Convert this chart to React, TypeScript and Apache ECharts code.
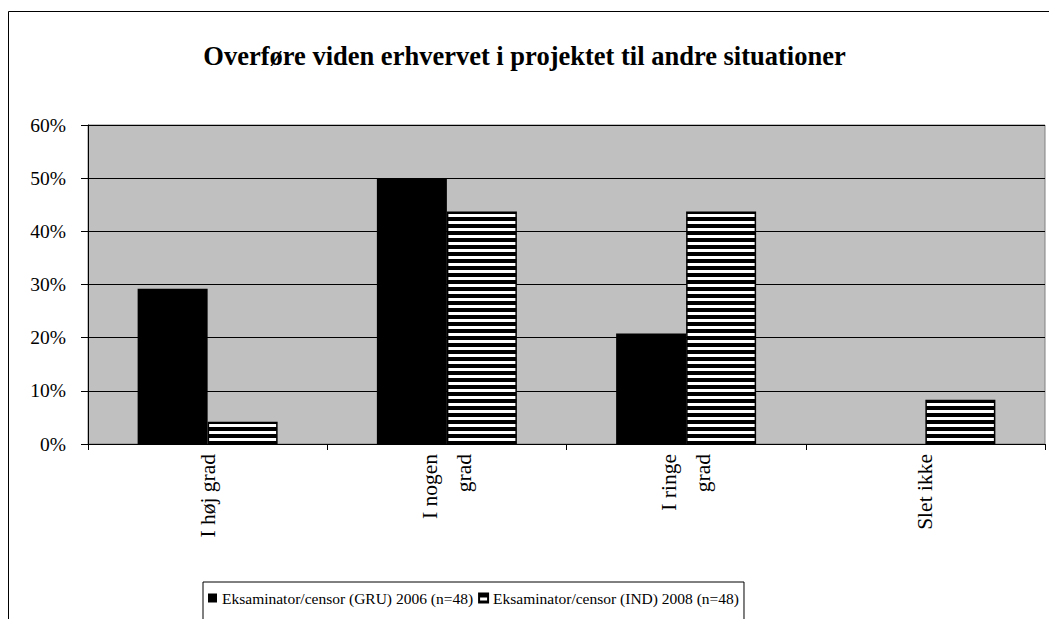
import React, { useEffect, useRef } from "react";
import * as echarts from "echarts";

const titleText = "Overføre viden erhvervet i projektet til andre situationer";
const categories = ["I høj grad", "I nogen\ngrad", "I ringe\ngrad", "Slet ikke"];
const seriesNames = [
  "Eksaminator/censor (GRU) 2006 (n=48)",
  "Eksaminator/censor (IND) 2008 (n=48)",
];
const gru2006 = [0.292, 0.5, 0.208, 0];
const ind2008 = [0.042, 0.4375, 0.4375, 0.083];
const yTicks = { min: 0, max: 0.6, interval: 0.1 };

const FONT = "'Liberation Serif', 'Times New Roman', serif";

function makeStripes(): HTMLCanvasElement {
  const c = document.createElement("canvas");
  c.width = 4;
  c.height = 7;
  const ctx = c.getContext("2d")!;
  ctx.fillStyle = "#000";
  ctx.fillRect(0, 0, 4, 7);
  ctx.fillStyle = "#fff";
  ctx.fillRect(0, 4, 4, 3);
  return c;
}

export default function App() {
  const ref = useRef<HTMLDivElement>(null);
  useEffect(() => {
    if (!ref.current) return;
    const chart = echarts.init(ref.current, undefined, { renderer: "svg" });
    const stripes = makeStripes();
    chart.setOption({
      animation: false,
      backgroundColor: "#fff",
      textStyle: { fontFamily: FONT },
      title: {
        text: titleText,
        left: "center",
        top: 37,
        textStyle: { fontFamily: FONT, fontSize: 26.5, fontWeight: "bold", color: "#000" },
      },
      graphic: [
        {
          type: "rect",
          shape: { x: 8.5, y: 11.5, width: 1100, height: 700 },
          style: { fill: "none", stroke: "#000", lineWidth: 1 },
          silent: true,
          z: -10,
        },
      ],
      grid: {
        left: 88,
        top: 125,
        right: 4,
        bottom: 175,
        show: true,
        backgroundColor: "#C0C0C0",
        borderColor: "#808080",
        borderWidth: 1,
      },
      legend: {
        left: 203,
        top: 582,
        orient: "horizontal",
        backgroundColor: "#fff",
        borderColor: "#000",
        borderWidth: 1,
        borderRadius: 0,
        padding: [8, 5, 14, 5],
        itemWidth: 9,
        itemHeight: 9,
        itemGap: 5,
        icon: "rect",
        textStyle: { fontFamily: FONT, fontSize: 15.5, color: "#000" },
        data: seriesNames,
      },
      xAxis: {
        type: "category",
        data: categories,
        axisLine: { show: true, lineStyle: { color: "#000", width: 1 } },
        axisTick: { show: true, length: 6, lineStyle: { color: "#000" } },
        axisLabel: {
          rotate: 90,
          margin: 10,
          interval: 0,
          fontFamily: FONT,
          fontSize: 21.5,
          color: "#000",
          lineHeight: 34,
        },
      },
      yAxis: {
        type: "value",
        min: yTicks.min,
        max: yTicks.max,
        interval: yTicks.interval,
        axisLine: { show: true, lineStyle: { color: "#000", width: 1 } },
        axisTick: { show: true, length: 7, lineStyle: { color: "#000" } },
        splitLine: { show: true, lineStyle: { color: "#000", width: 1 } },
        axisLabel: {
          margin: 22,
          fontFamily: FONT,
          fontSize: 19.5,
          color: "#000",
          formatter: (v: number) => Math.round(v * 100) + "%",
        },
      },
      series: [
        {
          name: seriesNames[0],
          type: "bar",
          data: gru2006,
          barWidth: 70,
          barGap: "0%",
          itemStyle: { color: "#000", borderWidth: 0 },
        },
        {
          name: seriesNames[1],
          type: "bar",
          data: ind2008,
          barWidth: 70,
          barGap: "0%",
          itemStyle: {
            color: { image: stripes, repeat: "repeat" },
            borderColor: "#000",
            borderWidth: 1.5,
          },
        },
      ],
    });
    return () => chart.dispose();
  }, []);
  return (
    <div
      ref={ref}
      style={{ position: "fixed", left: 0, top: 0, width: 1049, height: 619 }}
    />
  );
}
